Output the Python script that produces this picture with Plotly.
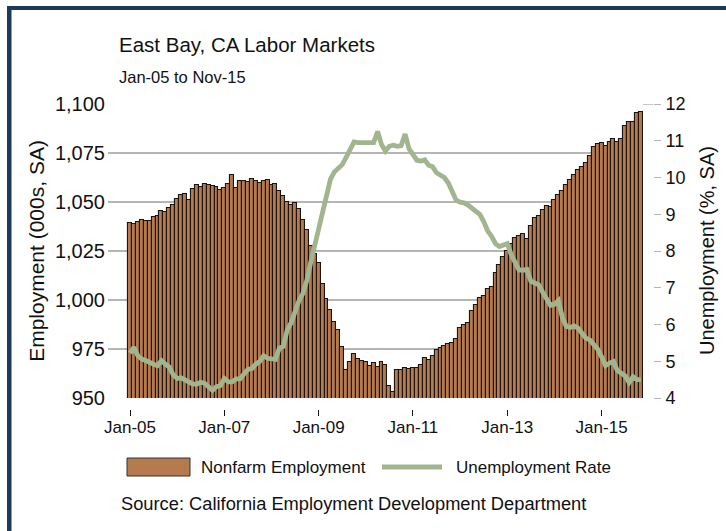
import plotly.graph_objects as go
import pandas as pd

# ---------------- data ----------------
months = pd.date_range("2005-01-01", "2015-11-01", freq="MS").strftime("%b-%y").tolist()

employment = [
    1039.3, 1038.8, 1039.7, 1041.0, 1040.2, 1040.2, 1042.2, 1043.0, 1045.3, 1044.9,
    1046.9, 1048.6, 1051.4, 1053.6, 1054.0, 1051.1, 1056.7, 1058.5, 1057.9, 1059.3,
    1058.8, 1058.3, 1057.6, 1055.9, 1057.4, 1059.0, 1063.8, 1057.0, 1060.6, 1060.6,
    1060.0, 1061.7, 1060.8, 1059.5, 1060.9, 1061.0, 1058.9, 1059.0, 1055.5, 1053.2,
    1050.2, 1048.5, 1049.5, 1046.4, 1040.6, 1035.5, 1027.4, 1023.4, 1019.1, 1008.4,
    1000.4, 995.0, 989.0, 984.9, 976.0, 964.5, 968.4, 972.2, 970.1, 969.1,
    968.2, 966.1, 967.8, 965.8, 968.2, 966.6, 955.9, 953.3, 964.2, 964.2,
    965.1, 964.6, 965.3, 965.5, 967.0, 970.5, 969.6, 971.4, 974.3, 975.6,
    976.5, 977.5, 978.1, 980.1, 985.8, 987.1, 988.5, 994.4, 997.5, 1000.9,
    1002.2, 1005.5, 1006.5, 1013.8, 1018.1, 1021.9, 1025.0, 1028.6, 1031.7, 1032.8,
    1033.8, 1031.1, 1037.9, 1041.8, 1043.0, 1045.9, 1048.1, 1047.6, 1051.0, 1053.6,
    1055.8, 1058.7, 1061.4, 1064.0, 1066.4, 1068.1, 1070.1, 1073.7, 1078.0, 1079.7,
    1080.0, 1078.8, 1080.4, 1082.3, 1080.4, 1082.3, 1089.0, 1090.8, 1091.0, 1095.6,
    1095.9,
]

unemployment = [
    5.22, 5.38, 5.15, 5.06, 5.02, 4.96, 4.92, 4.88, 5.02, 4.92,
    4.84, 4.63, 4.53, 4.55, 4.49, 4.46, 4.38, 4.38, 4.43, 4.40,
    4.31, 4.21, 4.31, 4.34, 4.53, 4.44, 4.44, 4.52, 4.52, 4.65,
    4.78, 4.80, 4.92, 4.99, 5.15, 5.08, 5.05, 5.05, 5.36, 5.40,
    5.85, 6.05, 6.35, 6.65, 6.85, 7.20, 7.70, 8.10, 8.60, 9.05,
    9.45, 9.95, 10.15, 10.25, 10.35, 10.55, 10.80, 10.97, 10.95, 10.95,
    10.92, 10.92, 10.95, 11.25, 10.90, 10.72, 10.85, 10.88, 10.85, 10.87,
    11.18, 10.78, 10.60, 10.47, 10.45, 10.48, 10.33, 10.29, 10.13, 10.08,
    10.00, 9.85, 9.62, 9.38, 9.33, 9.31, 9.25, 9.17, 9.08, 9.00,
    8.80, 8.55, 8.40, 8.20, 8.12, 8.17, 8.20, 7.90, 7.65, 7.48,
    7.48, 7.50, 7.18, 7.12, 7.08, 6.88, 6.70, 6.52, 6.55, 6.65,
    6.20, 5.95, 5.92, 5.96, 5.90, 5.75, 5.63, 5.58, 5.45, 5.33,
    5.12, 4.88, 4.95, 4.99, 4.75, 4.68, 4.60, 4.42, 4.58, 4.50,
    4.50,
]

tick_labels = ["Jan-05", "Jan-07", "Jan-09", "Jan-11", "Jan-13", "Jan-15"]

# ---------------- figure ----------------
FONT = "Liberation Sans, Arial, sans-serif"
BAR = "#b67a4f"
LINE = "#a3b58e"
GRID = "#b5b5b5"
NAVY = "#1d3a5c"

W, H = 726, 531
ML, MR, MT, MB = 108, 66, 104, 122
PW, PH = W - ML - MR, H - MT - MB


def px(xp):
    return (xp - ML) / PW


def py(yp):
    return (H - MB - yp) / PH


x = list(range(len(months)))
tickvals = [months.index(t) for t in tick_labels]

fig = go.Figure()
fig.add_bar(
    x=x, y=employment, name="Nonfarm Employment", yaxis="y",
    marker=dict(color=BAR, line=dict(color="#1c1410", width=1.1)),
)
fig.add_scatter(
    x=x, y=unemployment, name="Unemployment Rate", yaxis="y2", mode="lines",
    line=dict(color=LINE, width=4.8),
)

x_right = px(643)
ydom = [py(398), 1]

fig.update_layout(
    width=W, height=H,
    margin=dict(l=ML, r=MR, t=MT, b=MB, pad=0),
    paper_bgcolor="white", plot_bgcolor="white",
    showlegend=False, bargap=0,
    font=dict(family=FONT, size=17, color="#111111"),
    xaxis=dict(
        domain=[0, x_right], range=[(108 - 130) / 3.93, (643 - 130) / 3.93],
        tickmode="array", tickvals=tickvals, ticktext=tick_labels,
        ticks="outside", ticklen=6, tickwidth=1, tickcolor="#111111",
        showgrid=False, showline=False, zeroline=False,
        anchor="free", position=0,
        ticklabelstandoff=-3, tickfont=dict(size=17),
    ),
    yaxis=dict(
        domain=ydom, range=[950, 1100], dtick=25, tickformat=",",
        showgrid=True, gridcolor=GRID, gridwidth=1.5,
        ticks="", zeroline=False, showline=False,
        ticklabelstandoff=2, tickfont=dict(size=20),
        title=dict(text="Employment (000s, SA)", font=dict(size=21), standoff=4),
    ),
    yaxis2=dict(
        domain=ydom, overlaying="y", side="right", anchor="free", position=px(653),
        range=[4, 12], dtick=1,
        ticks="outside", ticklen=7, tickwidth=1.2, tickcolor=GRID,
        showgrid=False, zeroline=False, showline=False,
        ticklabelstandoff=1, tickfont=dict(size=18),
    ),
)

shapes = [
    # extension of the top rule to the right-axis ticks
    dict(type="line", xref="paper", yref="y", x0=x_right, x1=px(653), y0=1100, y1=1100,
         line=dict(color=GRID, width=1.5)),
    # legend swatches
    dict(type="rect", xref="paper", yref="paper", x0=px(127), x1=px(190), y0=py(476), y1=py(458),
         fillcolor=BAR, line=dict(color="#333333", width=1)),
    dict(type="line", xref="paper", yref="paper", x0=px(382), x1=px(442), y0=py(467), y1=py(467),
         line=dict(color=LINE, width=4.8)),
    # navy frame (top and left)
    dict(type="rect", xref="paper", yref="paper", x0=px(7), x1=px(11.5), y0=py(540), y1=py(6),
         fillcolor=NAVY, line=dict(width=0), layer="above"),
    dict(type="rect", xref="paper", yref="paper", x0=px(7), x1=px(740), y0=py(10), y1=py(6),
         fillcolor=NAVY, line=dict(width=0), layer="above"),
]

annotations = [
    dict(text="East Bay, CA Labor Markets", x=px(117), y=py(45), xanchor="left", yanchor="middle",
         font=dict(size=20.5)),
    dict(text="Jan-05 to Nov-15", x=px(117), y=py(77), xanchor="left", yanchor="middle",
         font=dict(size=16.5)),
    dict(text="Unemployment (%, SA)", x=px(707), y=py(251), textangle=-90,
         xanchor="center", yanchor="middle", font=dict(size=20)),
    dict(text="Nonfarm Employment", x=px(199), y=py(467), xanchor="left", yanchor="middle",
         font=dict(size=17)),
    dict(text="Unemployment Rate", x=px(454), y=py(467), xanchor="left", yanchor="middle",
         font=dict(size=17)),
    dict(text="Source: California Employment Development Department", x=px(353), y=py(503),
         xanchor="center", yanchor="middle", font=dict(size=18.3)),
]
for a in annotations:
    a.update(xref="paper", yref="paper", showarrow=False)

fig.update_layout(shapes=shapes, annotations=annotations)

fig.write_html(
    "out.html",
    config={"displayModeBar": False},
    post_script="document.body.style.margin='0px'; document.body.style.overflow='hidden';",
)
